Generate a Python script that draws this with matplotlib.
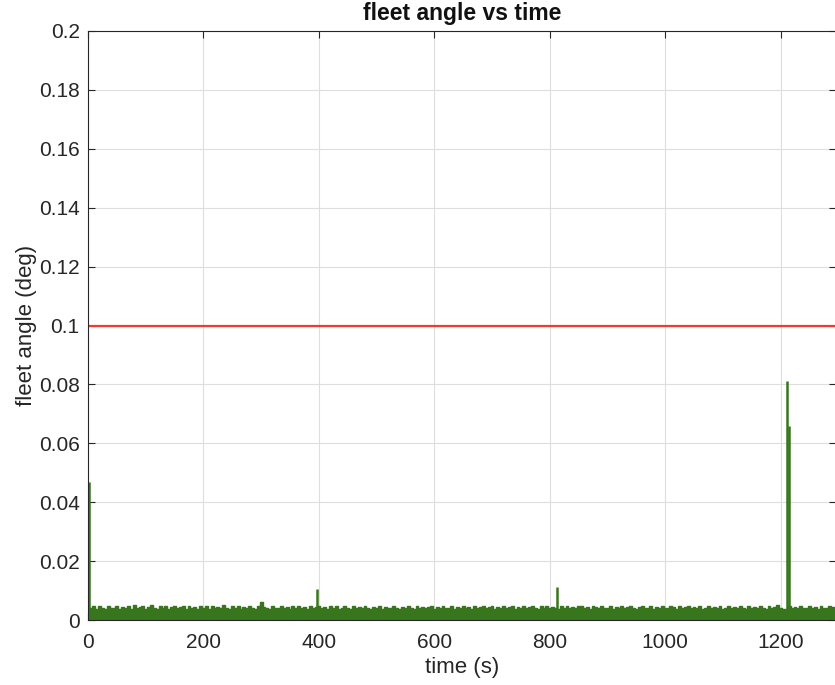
import numpy as np
import matplotlib
matplotlib.use("Agg")
import matplotlib.pyplot as plt

plt.rcParams['font.family'] = ['Liberation Sans', 'DejaVu Sans']

# upper edge of the noise band, sampled every 5 s (values in 1e-3 deg)
band_step = 5
band_top = [
    3.6, 4.2, 4.6, 3.9, 4.7, 4.1, 3.8, 4.8, 4.2, 4.0,
    4.9, 3.9, 4.5, 4.1, 4.6, 3.8, 5.0, 4.0, 4.3, 4.7,
    3.9, 4.4, 5.1, 4.1, 3.7, 4.6, 4.2, 4.8, 3.9, 4.4,
    4.7, 4.0, 4.3, 4.9, 3.8, 4.6, 4.1, 4.4, 3.9, 4.8,
    4.2, 4.6, 3.8, 4.7, 4.1, 4.4, 4.0, 5.1, 4.2, 3.9,
    4.6, 4.1, 4.8, 3.8, 4.4, 4.0, 4.7, 4.2, 3.9, 4.6,
    6.0, 4.4, 4.1, 3.7, 4.7, 4.2, 4.0, 4.8, 4.1, 4.4,
    3.9, 4.6, 4.2, 4.9, 4.0, 4.4, 3.8, 4.7, 4.1, 4.3,
    4.6, 4.0, 4.4, 3.9, 4.8, 4.2, 4.6, 3.8, 4.1, 4.7,
    4.2, 3.9, 4.6, 4.1, 4.4, 4.0, 4.8, 4.2, 3.8, 4.4,
    4.1, 4.7, 3.9, 4.4, 4.2, 4.0, 4.6, 4.1, 3.7, 4.4,
    4.0, 4.6, 4.2, 3.9, 4.7, 4.1, 4.4, 4.0, 4.3, 4.6,
    3.8, 4.4, 4.1, 4.6, 4.0, 4.2, 4.7, 3.9, 4.4, 4.1,
    4.6, 4.0, 4.3, 3.8, 4.8, 4.1, 4.4, 4.9, 4.0, 4.3,
    4.7, 3.9, 4.4, 4.1, 4.6, 4.0, 4.3, 4.8, 3.8, 4.4,
    4.1, 4.6, 4.0, 4.4, 4.9, 4.1, 3.9, 4.6, 4.2, 4.7,
    4.0, 4.4, 4.1, 3.6, 4.7, 4.2, 4.6, 4.0, 4.4, 4.1,
    4.6, 4.8, 4.0, 4.3, 3.9, 4.7, 4.4, 4.1, 4.6, 4.0,
    4.2, 4.7, 3.9, 4.4, 4.1, 4.6, 4.0, 4.3, 4.8, 4.1,
    3.8, 4.4, 4.7, 4.0, 4.2, 4.6, 3.9, 4.4, 4.1, 4.7,
    4.2, 4.0, 4.8, 4.4, 3.9, 4.6, 4.1, 4.3, 4.7, 4.0,
    4.4, 4.1, 4.6, 3.8, 4.2, 4.7, 4.0, 4.4, 4.1, 4.6,
    3.9, 4.2, 4.8, 4.1, 4.4, 4.0, 4.6, 4.2, 3.8, 4.7,
    4.1, 4.4, 4.0, 4.6, 4.2, 3.9, 4.7, 4.1, 4.4, 5.2,
    4.2, 3.8, 3.6, 4.6, 4.1, 4.4, 4.0, 4.7, 4.2, 4.0,
    4.6, 4.1, 4.4, 3.9, 4.8, 4.2, 4.0, 4.7, 4.4, 4.1,
]

# isolated spikes (time s, angle deg)
spike_time = [2.0, 396, 813, 1211.5, 1214.5]
spike_val = [0.047, 0.0105, 0.0112, 0.081, 0.066]

limit_val = 0.1

green = '#37761c'

band_time = np.arange(len(band_top)) * band_step
band_val = np.array(band_top) * 1e-3

fig = plt.figure(figsize=(8.35, 6.85), dpi=100)
ax = fig.add_axes([88 / 835, 65 / 685, 748 / 835, 589 / 685])

ax.fill_between(band_time, 0, band_val, step='mid', color=green, lw=0)
ax.plot(band_time, band_val, drawstyle='steps-mid', color=green, lw=1.0)
ax.vlines(spike_time, 0, spike_val, color=green, lw=1.8)
ax.axhline(limit_val, color='#f03a32', lw=1.6)

ax.set_xlim(0, 1296)
ax.set_ylim(0, 0.2)
ax.set_xticks(np.arange(0, 1201, 200))
yt = np.round(np.arange(0, 0.2001, 0.02), 2)
ax.set_yticks(yt)
ax.set_yticklabels(['0' if v == 0 else ('%g' % v) for v in yt])

ax.grid(True, color='#dedede', lw=0.8)
ax.set_axisbelow(True)
ax.tick_params(direction='in', length=5, width=0.8, colors='#262626',
               labelsize=15, top=True, right=True)
ax.tick_params(axis='x', pad=9)
ax.tick_params(axis='y', pad=6)
for s in ax.spines.values():
    s.set_color('#262626')
    s.set_linewidth(0.8)

ax.set_xlabel('time (s)', fontsize=16, color='#262626', labelpad=4)
ax.set_ylabel('fleet angle (deg)', fontsize=16, color='#262626', labelpad=1)
ax.set_title('fleet angle vs time', fontsize=16.5, fontweight='bold', color='#111111', pad=8)

fig.savefig('out.png', dpi=100)
